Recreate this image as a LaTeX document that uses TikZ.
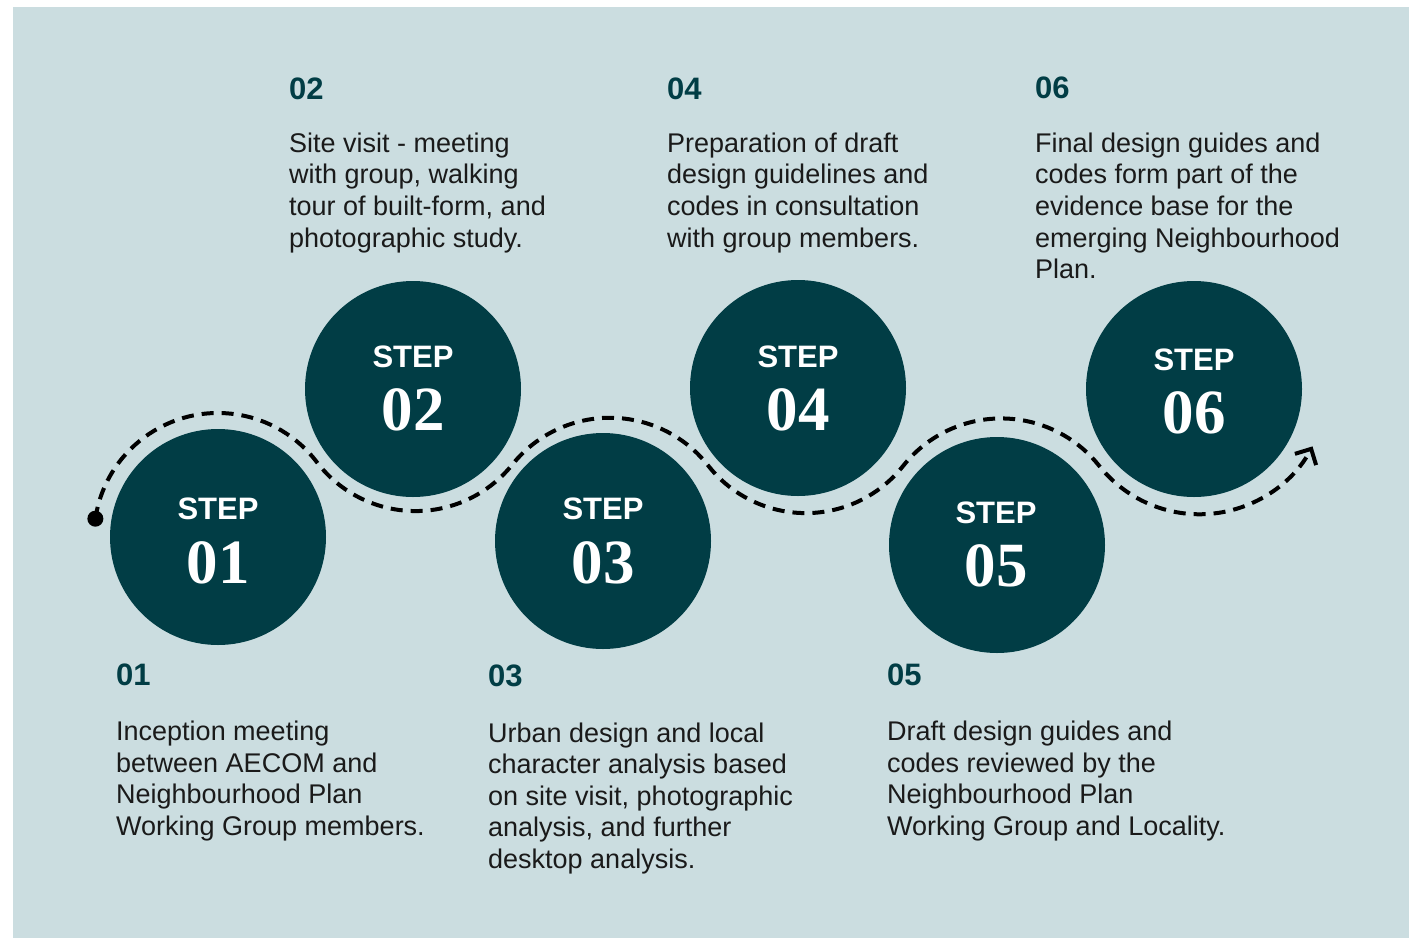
\documentclass[tikz,border=0pt]{standalone}
\usepackage{fontspec}
\setmainfont{Liberation Sans}
\newfontfamily\numfont{Liberation Serif}
\usepackage{tikz}
\usetikzlibrary{arrows.meta, calc}
\usepackage{xcolor}
\definecolor{stepteal}{HTML}{013D45}
\definecolor{panelblue}{HTML}{CBDDE0}
\definecolor{bodyink}{HTML}{1A1A1A}

\begin{document}
\begin{tikzpicture}[x=1pt,y=1pt,yscale=-1,xscale=1,
    stepdisc/.style={circle, fill=stepteal, minimum size=216pt, inner sep=0pt},
    steptag/.style={anchor=base, inner sep=0pt, text=white, font=\fontsize{31}{31}\selectfont\bfseries},
    stepnum/.style={anchor=base, inner sep=0pt, text=white, font=\numfont\bfseries\fontsize{63}{63}\selectfont},
    stephead/.style={anchor=base west, inner sep=0pt, text=stepteal, font=\fontsize{31}{31}\selectfont\bfseries},
    stepbody/.style={anchor=base west, inner sep=0pt, align=left, text=bodyink, font=\fontsize{27}{31.6}\selectfont},
    trail/.style={line width=4pt, dash pattern=on 12pt off 8pt}]
        \useasboundingbox (0,0) rectangle (1409,938);
        \fill[white] (0,0) rectangle (1409,938);
        %Shape: Rectangle
        \fill[panelblue] (13,7) rectangle (1409,938);
        %Shape: Circle
        \draw (218,537) node (step01) [stepdisc] {};
        \draw (413,389) node (step02) [stepdisc] {};
        \draw (603,541) node (step03) [stepdisc] {};
        \draw (798,388) node (step04) [stepdisc] {};
        \draw (997,545) node (step05) [stepdisc] {};
        \draw (1194,389) node (step06) [stepdisc] {};
        %Curve Lines
        \coordinate (trailstart) at ($(step01)+(188.5:124)$);
        \draw [trail, -{Straight Barb[length=12pt,width=24pt]}] (trailstart)
            arc[start angle=188.5, end angle=322.8, radius=124]
            arc[start angle=142.8, end angle=38.7, radius=124]
            arc[start angle=218.7, end angle=321.9, radius=125]
            arc[start angle=141.9, end angle=38.3, radius=124]
            arc[start angle=218.3, end angle=321.6, radius=125]
            arc[start angle=141.6, end angle=28, radius=128];
        \fill (trailstart) circle[radius=8];
        % Text Node
        \draw (218,519.5) node (tag01) [steptag] {STEP};
        \draw (218,583) node (num01) [stepnum] {01};
        \draw (413,367.5) node (tag02) [steptag] {STEP};
        \draw (413,430.5) node (num02) [stepnum] {02};
        \draw (603,519) node (tag03) [steptag] {STEP};
        \draw (603,583) node (num03) [stepnum] {03};
        \draw (798,367.5) node (tag04) [steptag] {STEP};
        \draw (798,430.5) node (num04) [stepnum] {04};
        \draw (996,523) node (tag05) [steptag] {STEP};
        \draw (996,586) node (num05) [stepnum] {05};
        \draw (1194,370.5) node (tag06) [steptag] {STEP};
        \draw (1194,433) node (num06) [stepnum] {06};
        % Text Node
        \draw (289,99) node (head02) [stephead] {02};
        \draw (289,247) node (text02) [stepbody] {Site visit - meeting\\with group, walking\\tour of built-form, and\\photographic study.};
        % Text Node
        \draw (667,99) node (head04) [stephead] {04};
        \draw (667,247) node (text04) [stepbody] {Preparation of draft\\design guidelines and\\codes in consultation\\with group members.};
        % Text Node
        \draw (1035,98) node (head06) [stephead] {06};
        \draw (1035,278.6) node (text06) [stepbody] {Final design guides and\\codes form part of the\\evidence base for the\\emerging Neighbourhood\\Plan.};
        % Text Node
        \draw (116,685) node (head01) [stephead] {01};
        \draw (116,835.5) node (text01) [stepbody] {Inception meeting\\between AECOM and\\Neighbourhood Plan\\Working Group members.};
        % Text Node
        \draw (488,686.7) node (head03) [stephead] {03};
        \draw (488,868.5) node (text03) [stepbody] {Urban design and local\\character analysis based\\on site visit, photographic\\analysis, and further\\desktop analysis.};
        % Text Node
        \draw (887,685) node (head05) [stephead] {05};
        \draw (887,835.5) node (text05) [stepbody] {Draft design guides and\\codes reviewed by the\\Neighbourhood Plan\\Working Group and Locality.};
\end{tikzpicture}
\end{document}
